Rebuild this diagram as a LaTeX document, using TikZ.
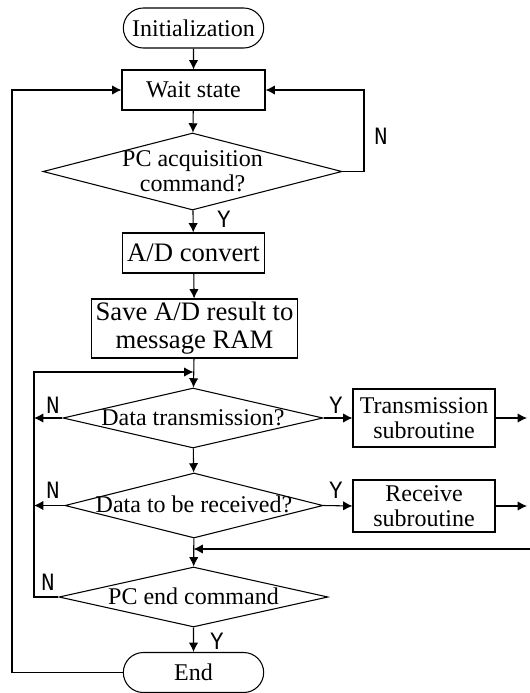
\documentclass[tikz,border=0pt]{standalone}
\usepackage{fontspec}
\setmainfont{Liberation Serif}
\newfontfamily\ynfont{Liberation Mono}
\usetikzlibrary{shapes.geometric,shapes.misc,arrows.meta}

\newcommand\dectext[1]{\smash{\makebox[0pt]{\raisebox{-6pt}{\begin{tabular}{@{}c@{}}#1\end{tabular}}}}}

\tikzset{
  every node/.style={font=\fontsize{18}{19}\selectfont},
  big text/.style={font=\fontsize{20}{21}\selectfont},
  flow box/.style n args={2}{draw,rectangle,line width=0.8pt,align=center,inner sep=1pt,minimum width=#1,minimum height=#2},
  flow term/.style={draw,rounded rectangle,line width=0.8pt,inner sep=1pt,minimum width=107.25pt,minimum height=30pt},
  flow dec/.style n args={2}{draw,diamond,line width=0.8pt,inner sep=0pt,minimum width=#1,minimum height=#2},
  yn/.style={font=\ynfont\fontsize{17}{17}\selectfont,inner sep=0pt,yscale=1.1},
  flow arrow/.style={line width=0.8pt,-{Latex[length=7pt,width=7pt]}}
}

\begin{document}
\begin{tikzpicture}[x=0.75pt,y=-0.75pt]
  \useasboundingbox (0,0) rectangle (530,693);

  \node [flow term]                          (init)  at (193.5,28)    {Initialization};
  \node [flow box={107.25pt}{30pt}]          (wait)  at (193.5,90)    {Wait state};
  \node [flow dec={224.25pt}{57.75pt}]       (acq)   at (192.5,171.5) {\dectext{PC acquisition\\command?}};
  \node [flow box={106.5pt}{30pt},big text]  (conv)  at (193.5,253)   {A/D convert};
  \node [flow box={154.5pt}{44.25pt},big text,align=center] (save) at (194.5,328.5) {Save A/D result to\\message RAM};
  \node [flow dec={195pt}{45pt}]             (trans) at (193,418)     {\dectext{Data transmission?}};
  \node [flow box={106.5pt}{43.5pt}]         (tsub)  at (424,418)     {Transmission\\subroutine};
  \node [flow dec={193.5pt}{48.75pt}]        (recv)  at (194,505.5)   {\dectext{Data to be received?}};
  \node [flow box={106.5pt}{39pt}]           (rsub)  at (424,506)     {Receive\\subroutine};
  \node [flow dec={201.75pt}{45pt}]          (pcend) at (193.5,597)   {\dectext{PC end command}};
  \node [flow term]                          (stop)  at (193.5,672.5) {End};

  \node [yn] (acqN)   at (381,136) {N};
  \node [yn] (acqY)   at (224,219) {Y};
  \node [yn] (transN) at (53,405)  {N};
  \node [yn] (transY) at (336,405) {Y};
  \node [yn] (recvN)  at (53,490)  {N};
  \node [yn] (recvY)  at (336,490) {Y};
  \node [yn] (pcendN) at (48,582)  {N};
  \node [yn] (pcendY) at (217,641) {Y};

  \coordinate (acqR)   at (364,171.5);
  \coordinate (loopL)  at (34,372);
  \coordinate (loopJ)  at (193.5,372);
  \coordinate (outerL) at (12,90);
  \coordinate (tsubR)  at (527,418);
  \coordinate (rsubR)  at (527,506);
  \coordinate (backR)  at (530,549);
  \coordinate (backJ)  at (193.5,549);

  \draw [flow arrow] (init) -- (wait);
  \draw [flow arrow] (wait) -- (acq);
  \draw [flow arrow] (acq.east) -- (acqR) |- (wait.east);
  \draw [flow arrow] (acq) -- (conv);
  \draw [flow arrow] (conv) -- (save);
  \draw [flow arrow] (save) -- (trans);
  \draw [flow arrow] (trans.west) -- (trans.west -| loopL);
  \draw [flow arrow] (trans.east) -- (tsub.west);
  \draw [flow arrow] (tsub.east) -- (tsubR);
  \draw [flow arrow] (trans) -- (recv);
  \draw [flow arrow] (recv.west) -- (recv.west -| loopL);
  \draw [flow arrow] (recv.east) -- (rsub.west);
  \draw [flow arrow] (rsub.east) -- (rsubR);
  \draw [flow arrow] (recv) -- (pcend);
  \draw [flow arrow] (backR) -- (backJ);
  \draw [flow arrow] (pcend.west) -| (loopL) -- (loopJ);
  \draw [flow arrow] (pcend) -- (stop);
  \draw [flow arrow] (stop.west) -| (outerL) -- (wait.west);

\end{tikzpicture}
\end{document}
